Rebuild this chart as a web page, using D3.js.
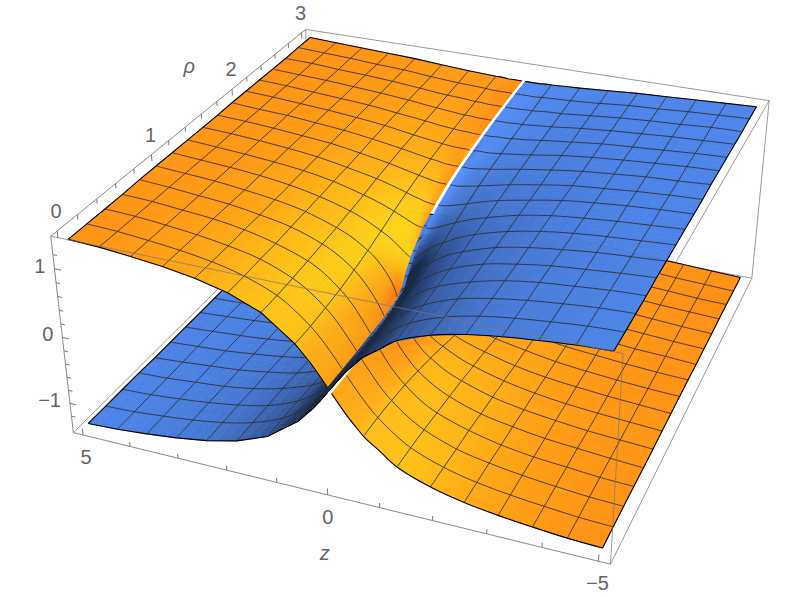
<!DOCTYPE html><html><head><meta charset="utf-8"><style>html,body{margin:0;background:#fff}svg{display:block}</style></head><body>
<script src="https://cdn.jsdelivr.net/npm/d3@7"></script>
<script>
// ---- data ----
const zAbs=[.04,.1,.2,.35,.5,.625,.9375,1.25,1.875,2.5,3.125,3.75,4.375,5];
const rhoValues=[0,.1875,.375,.5625,.75,.9375,1,1.04,1.125,1.3125,1.5,1.6875,1.875,2.0625,2.25,2.4375,2.625,2.8125,3];
const upperHeights=[
[0.04,0.10,0.20,0.34,0.46,0.56,0.73,0.90,1.08,1.19,1.26,1.31,1.35,1.37],
[0.04,0.10,0.20,0.34,0.47,0.56,0.75,0.90,1.08,1.19,1.26,1.31,1.35,1.37],
[0.04,0.11,0.21,0.36,0.49,0.58,0.77,0.91,1.09,1.19,1.26,1.31,1.35,1.37],
[0.05,0.12,0.23,0.39,0.52,0.61,0.80,0.93,1.09,1.20,1.27,1.31,1.35,1.37],
[0.06,0.15,0.28,0.44,0.57,0.66,0.83,0.95,1.11,1.20,1.27,1.31,1.35,1.38],
[0.11,0.24,0.38,0.53,0.65,0.72,0.87,0.97,1.12,1.21,1.27,1.32,1.35,1.38],
[0.20,0.31,0.44,0.57,0.67,0.74,0.88,0.98,1.12,1.21,1.27,1.32,1.35,1.38],
[0.31,0.38,0.48,0.60,0.69,0.76,0.89,0.99,1.13,1.21,1.27,1.32,1.35,1.38],
[0.48,0.51,0.57,0.66,0.74,0.79,0.91,1.00,1.13,1.22,1.28,1.32,1.35,1.38],
[0.71,0.71,0.73,0.78,0.83,0.87,0.96,1.03,1.15,1.23,1.28,1.32,1.35,1.38],
[0.84,0.84,0.85,0.88,0.91,0.94,1.01,1.07,1.16,1.24,1.29,1.33,1.36,1.38],
[0.94,0.94,0.94,0.96,0.98,1.00,1.05,1.10,1.18,1.25,1.29,1.33,1.36,1.38],
[1.01,1.01,1.01,1.02,1.04,1.05,1.09,1.13,1.20,1.26,1.30,1.34,1.36,1.39],
[1.06,1.07,1.07,1.07,1.08,1.09,1.12,1.15,1.22,1.27,1.31,1.34,1.37,1.39],
[1.11,1.11,1.11,1.12,1.12,1.13,1.15,1.18,1.23,1.28,1.31,1.34,1.37,1.39],
[1.15,1.15,1.15,1.15,1.16,1.16,1.18,1.20,1.25,1.29,1.32,1.35,1.37,1.39],
[1.18,1.18,1.18,1.18,1.19,1.19,1.21,1.22,1.26,1.30,1.33,1.35,1.38,1.39],
[1.21,1.21,1.21,1.21,1.21,1.22,1.23,1.24,1.27,1.31,1.33,1.36,1.38,1.40],
[1.23,1.23,1.23,1.23,1.24,1.24,1.25,1.26,1.29,1.32,1.34,1.36,1.38,1.40]];
const meshZ=[.625,1.25,1.875,2.5,3.125,3.75,4.375];
const meshRho=[.1875,.375,.5625,.75,.9375,1.125,1.3125,1.5,1.6875,1.875,2.0625,2.25,2.4375,2.625,2.8125];
const zTicks=[-5,-4,-3,-2,-1,0,1,2,3,4,5], zLabels=[-5,0,5];
const rhoTicks=d3.range(0,16).map(i=>i/5), rhoLabels=[0,1,2,3];
const hTicks=d3.range(-6,7).map(i=>i/5), hLabels=[-1,0,1];
// ---- page + camera fit to the box corners ----
const W=789,H=597;
const corners=[[0,0,1,50.7,236.7],[0,1,1,305.7,29.3],[1,1,1,769.3,100.7],[1,0,1,622.9,353.3],[0,0,0,73.3,432.3],[1,0,0,610.7,564.3],[1,1,0,751.7,278.3]];
function fit(){
  const rows=[],rhs=[];
  corners.forEach(([u,v,w,x,y])=>{
    rows.push([u,v,w,1,0,0,0,0,-x*u,-x*v,-x*w]);rhs.push(x);
    rows.push([0,0,0,0,u,v,w,1,-y*u,-y*v,-y*w]);rhs.push(y);
  });
  const n=11,A=d3.range(n).map(i=>d3.range(n+1).map(j=>{
    return j<n?d3.sum(rows,r=>r[i]*r[j]):d3.sum(rows,(r,k)=>r[i]*rhs[k]);}));
  for(let i=0;i<n;i++){
    let p=i;for(let k=i;k<n;k++)if(Math.abs(A[k][i])>Math.abs(A[p][i]))p=k;
    [A[i],A[p]]=[A[p],A[i]];
    for(let k=0;k<n;k++)if(k!==i){const f=A[k][i]/A[i][i];for(let j=i;j<=n;j++)A[k][j]-=f*A[i][j];}
  }
  return A.map((r,i)=>r[n]/r[i]);
}
const P=fit();
const proj=(u,v,w)=>{const d=P[8]*u+P[9]*v+P[10]*w+1;
  return [(P[0]*u+P[1]*v+P[2]*w+P[3])/d,(P[4]*u+P[5]*v+P[6]*w+P[7])/d,d];};
const uS=d3.scaleLinear().domain([5,-5]).range([.02,.98]);
const vS=d3.scaleLinear().domain([0,3]).range([.02,.98]);
const wS=d3.scaleLinear().domain([-1.4,1.4]).range([.02,.98]);
const pt=(z,r,h)=>proj(uS(z),vS(r),wS(h));
const svg=d3.select("body").append("svg").attr("width",W).attr("height",H).attr("viewBox",[0,0,W,H]);
const line=d3.line();
const seg=(a,b,c,o)=>svg.append("path").attr("d",line([a,b])).attr("fill","none").attr("stroke",c).attr("stroke-width",1).attr("stroke-opacity",o||1);
// ---- box, back edges ----
const bc=(u,v,w)=>proj(u,v,w).slice(0,2);
const BOX="#9a9a9a";
[[[0,0,1],[0,1,1]],[[0,1,1],[1,1,1]],[[1,1,1],[1,0,1]],[[1,1,1],[1,1,0]],[[1,1,0],[1,0,0]],
 [[0,0,0],[1,0,0]],[[0,0,1],[0,0,0]],[[0,0,0],[0,1,0]],[[0,1,0],[0,1,1]],[[0,1,0],[1,1,0]]]
 .forEach(([a,b],i)=>seg(bc(...a),bc(...b),i==5||i==6||i==0?"#8a8a8a":BOX));
// ---- surface ----
const nZ=zAbs.length,nR=rhoValues.length;
const kz=1.39,kr=.418;
const L=[-.50,-.30,.81];
function grad(i,j){
  const j0=Math.max(0,j-1),j1=Math.min(nZ-1,j+1),i0=Math.max(0,i-1),i1=Math.min(nR-1,i+1);
  return [(upperHeights[i][j1]-upperHeights[i][j0])/(zAbs[j1]-zAbs[j0]),
          (upperHeights[i1][j]-upperHeights[i0][j])/(rhoValues[i1]-rhoValues[i0])];
}
const sheets=[
 {zs:1,hs:-1,c:"blue"},{zs:1,hs:1,c:"orange"},{zs:-1,hs:-1,c:"orange"},{zs:-1,hs:1,c:"blue"}];
function shade(t,c){
  if(c==="orange"){
    const G=t>=1?138*Math.pow(t,2.2):138*t;
    return [Math.min(255,268*Math.pow(t,.4)),Math.min(228,G),20*t];
  }
  const q=Math.pow(t,.95);return [80*q,137*q,Math.min(255,240*q)];
}
function nodeT(sh,i,j){
  const [gz,gr]=grad(i,j);
  const hz=sh.hs*sh.zs*gz*kz, hr=sh.hs*gr*kr;
  const m=Math.hypot(hz,hr,1);
  const I=(-hz*L[0]-hr*L[1]+L[2])/m;
  return Math.max(.28,I/L[2]);
}
sheets.forEach(sh=>{
  const g=svg.append("g");
  const T=rhoValues.map((_,i)=>zAbs.map((_,j)=>nodeT(sh,i,j)));
  const V=rhoValues.map((r,i)=>zAbs.map((z,j)=>[sh.zs*z,r,sh.hs*upperHeights[i][j]]));
  const cells=[];
  for(let i=0;i<nR-1;i++)for(let j=0;j<nZ-1;j++){
    const c=pt(...V[i][j]),e=pt(...V[i+1][j+1]);
    cells.push({i,j,d:(c[2]+e[2])/2});
  }
  cells.sort((a,b)=>d3.descending(a.d,b.d));
  const quads=[];
  cells.forEach(({i,j})=>{
    const N=j<7?5:3;
    const A=V[i][j],B=V[i][j+1],C=V[i+1][j+1],D=V[i+1][j];
    const bil=(a,b)=>A.map((_,k)=>(1-a)*(1-b)*A[k]+(1-a)*b*B[k]+a*b*C[k]+a*(1-b)*D[k]);
    const tb=(a,b)=>(1-a)*(1-b)*T[i][j]+(1-a)*b*T[i][j+1]+a*b*T[i+1][j+1]+a*(1-b)*T[i+1][j];
    for(let p=0;p<N;p++)for(let q=0;q<N;q++){
      const a0=p/N,a1=(p+1)/N,b0=q/N,b1=(q+1)/N;
      const poly=[bil(a0,b0),bil(a0,b1),bil(a1,b1),bil(a1,b0)].map(v=>pt(...v).slice(0,2));
      const col=shade(tb((a0+a1)/2,(b0+b1)/2),sh.c);
      quads.push({poly,col:d3.rgb(...col).formatHex()});
    }
  });
  g.selectAll("path").data(quads).join("path")
    .attr("d",d=>line(d.poly)+"Z").attr("fill",d=>d.col).attr("stroke",d=>d.col).attr("stroke-width",.7);
  const cr=d3.line().curve(d3.curveCatmullRom.alpha(.5));
  const mesh=svg.append("g").attr("fill","none").attr("stroke","#2e2e2e").attr("stroke-width",1).attr("stroke-opacity",.85);
  meshRho.forEach(r=>{const i=rhoValues.indexOf(r);
    mesh.append("path").attr("d",cr(zAbs.map((z,j)=>pt(...V[i][j]).slice(0,2))));});
  meshZ.forEach(z=>{const j=zAbs.indexOf(z);
    mesh.append("path").attr("d",cr(rhoValues.map((r,i)=>pt(...V[i][j]).slice(0,2))));});
  const edge=svg.append("g").attr("fill","none").attr("stroke","#000").attr("stroke-width",1.1);
  edge.append("path").attr("d",(sh.zs>0?line:cr)(zAbs.map((z,j)=>pt(...V[0][j]).slice(0,2))));
  edge.append("path").attr("d",line(zAbs.map((z,j)=>pt(...V[nR-1][j]).slice(0,2))));
  edge.append("path").attr("d",line(rhoValues.map((r,i)=>pt(...V[i][nZ-1]).slice(0,2))));
});
seg(bc(0,0,1),bc(1,0,1),"#777",.7);
seg(bc(1,0,1),bc(1,0,0),"#777",.7);
const TC="#777";
const tk=(a,b)=>seg(a,b,TC,1);
zTicks.forEach(t=>{const u=uS(t),M=zLabels.includes(t);tk(bc(u,0,0),bc(u,0,M?.034:.024));});
rhoTicks.forEach(t=>{const v=vS(t),M=rhoLabels.includes(t);tk(bc(0,v,1),bc(0,v,M?.966:.976));});
hTicks.forEach(t=>{const w=wS(+t.toFixed(1)),M=hLabels.includes(+t.toFixed(1));tk(bc(0,0,w),bc(M?.013:.008,0,w));});
const text=(x,y,s,a,it)=>svg.append("text").attr("x",x).attr("y",y).attr("text-anchor",a||"middle").attr("dominant-baseline","central")
  .attr("font-family","'Liberation Sans',Arial,sans-serif").attr("font-size",20).attr("font-style",it?"italic":null).attr("fill","#666").text(s);
const fmt=v=>String(v).replace("-","\u2212");
zLabels.forEach(t=>{const p=bc(uS(t),0,0);text(p[0]+(t==5?3:t==-5?-1:0),p[1]+22,fmt(t));});
rhoLabels.forEach(t=>{const p=bc(0,vS(t),1);text(p[0]-1,p[1]-20,fmt(t));});
hLabels.forEach(t=>{const p=bc(0,0,wS(t));text(p[0]-9,p[1]-3,fmt(t),"end");});
const pz=bc(uS(0),0,0);text(pz[0]-3,pz[1]+58,"z",null,true);
const pr=bc(0,vS(1.5),1);text(pr[0]-4,pr[1]-55,"\u03c1",null,true);
</script></body></html>
